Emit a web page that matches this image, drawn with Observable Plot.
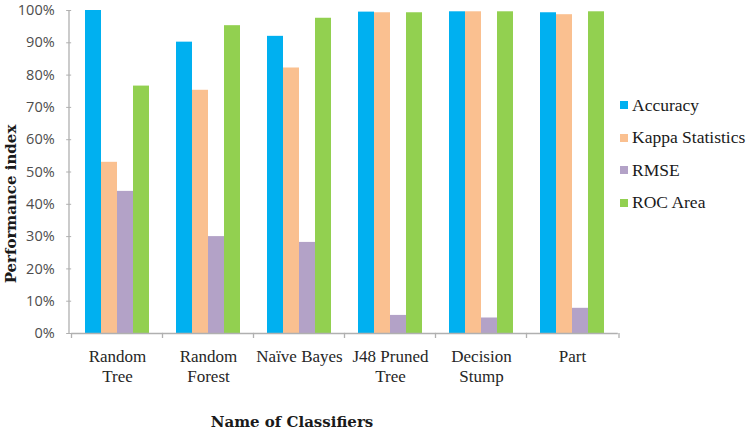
<!DOCTYPE html>
<html><head><meta charset="utf-8">
<script src="https://cdn.jsdelivr.net/npm/d3@7"></script>
<script src="https://cdn.jsdelivr.net/npm/@observablehq/plot@0.6"></script>
<style>
body{margin:0;background:#fff}
#wrap{position:relative;width:749px;height:431px;overflow:hidden}
.ttl{position:absolute;font-family:"DejaVu Serif",serif;font-weight:bold;font-size:15px;color:#1a1a1a;white-space:nowrap}
#ytitle{left:11px;top:204px;transform:translate(-50%,-50%) rotate(-90deg)}
#xtitle{left:292px;top:422px;transform:translate(-50%,-50%)}
#legend{position:absolute;left:620px;top:94px;font-family:"Liberation Serif","Times New Roman",serif;font-size:17.5px;color:#1a1a1a}
#legend .it{display:flex;align-items:center;height:22px;margin-bottom:10.5px;white-space:nowrap}
#legend .sw{width:8px;height:8px;margin-right:4px;flex:none}
</style></head><body><div id="wrap"></div>
<script>
const classifiers = ["Random\nTree", "Random\nForest", "Naïve Bayes", "J48 Pruned\nTree", "Decision\nStump", "Part"];
const metrics = ["Accuracy", "Kappa Statistics", "RMSE", "ROC Area"];
const accuracy = [100, 90.2, 92, 99.5, 99.6, 99.3];
const kappa = [53, 75.3, 82.2, 99.3, 99.6, 98.7];
const rmse = [44, 30, 28.2, 5.6, 4.8, 7.8];
const roc = [76.6, 95.3, 97.6, 99.3, 99.6, 99.6];
const colors = ["#00B0F0", "#FAC090", "#B3A2C7", "#92D050"];
const yTicks = [0, 10, 20, 30, 40, 50, 60, 70, 80, 90, 100];
const xTitle = "Name of Classifiers";
const yTitle = "Performance index";

const series = [accuracy, kappa, rmse, roc];
const rows = [];
classifiers.forEach((c, i) => metrics.forEach((m, j) => rows.push({classifier: c, metric: m, value: series[j][i] / 100})));

const W = 749, H = 431, mL = 69, mR = 130, mT = 10, mB = 98;
const pIn = 0.28, pOut = pIn / 2;
const step = (W - mL - mR) / (classifiers.length - pIn + 2 * pOut);
const axisGray = "#b0b0b0";

const plot = Plot.plot({
  width: W, height: H,
  marginLeft: mL, marginRight: mR, marginTop: mT, marginBottom: mB,
  fx: {domain: classifiers, paddingInner: pIn, paddingOuter: pOut, label: null, axis: null},
  x: {domain: metrics, padding: 0, axis: null},
  y: {domain: [0, 1], axis: null},
  color: {domain: metrics, range: colors},
  marks: [
    Plot.barY(rows, {fx: "classifier", x: "metric", y: "value", fill: "metric"}),
    Plot.ruleY([0], {stroke: axisGray, strokeWidth: 1.3, insetLeft: -step * pOut, insetRight: -step * pOut}),
    Plot.axisY({
      ticks: yTicks.map(v => v / 100), tickFormat: d3.format(".0%"),
      tickSize: 5, tickPadding: 12, dx: -step * pOut,
      stroke: axisGray, fill: "#4d4d4d",
      fontFamily: "'Open Sans', sans-serif", fontSize: 14.5, label: null
    }),
    Plot.axisFx({
      anchor: "bottom", tickSize: 0, tickPadding: 14, lineHeight: 1.18,
      fill: "#262626", fontFamily: "'Liberation Serif', 'Times New Roman', serif", fontSize: 17, label: null
    })
  ]
});

const wrap = document.getElementById("wrap");
wrap.appendChild(plot);

// axis lines and category-boundary ticks derived from the plot's scales
const fx = plot.scale("fx"), y = plot.scale("y");
const svg = d3.select(plot);
const x0 = fx.range[0], x1 = fx.range[1];
const y0 = y.apply(0), y1 = y.apply(1);
svg.append("line").attr("x1", x0).attr("x2", x0).attr("y1", y1).attr("y2", y0)
  .attr("stroke", axisGray).attr("stroke-width", 1.3);
const bounds = classifiers.map(c => fx.apply(c) - (fx.step - fx.bandwidth) / 2).concat([x1]);
svg.selectAll("line.bt").data(bounds).join("line").attr("class", "bt")
  .attr("x1", d => d).attr("x2", d => d).attr("y1", y0).attr("y2", y0 + 5)
  .attr("stroke", axisGray).attr("stroke-width", 1.3);

const yt = document.createElement("div"); yt.className = "ttl"; yt.id = "ytitle"; yt.textContent = yTitle; wrap.appendChild(yt);
const xt = document.createElement("div"); xt.className = "ttl"; xt.id = "xtitle"; xt.textContent = xTitle; wrap.appendChild(xt);
const lg = document.createElement("div"); lg.id = "legend";
metrics.forEach((m, j) => {
  const it = document.createElement("div"); it.className = "it";
  const sw = document.createElement("span"); sw.className = "sw"; sw.style.background = colors[j];
  const t = document.createElement("span"); t.textContent = m;
  it.appendChild(sw); it.appendChild(t); lg.appendChild(it);
});
wrap.appendChild(lg);
</script></body></html>
